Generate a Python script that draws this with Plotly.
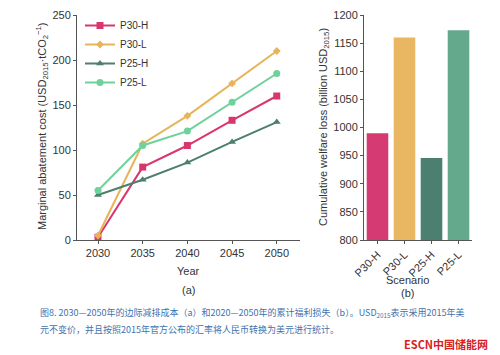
import plotly.graph_objects as go

years = [2030, 2035, 2040, 2045, 2050]
p30h = [3, 81, 105, 133, 160]
p30l = [5, 107, 138, 174, 210]
p25h = [50, 67, 86, 109, 131]
p25l = [55, 105, 121, 153, 185]

scenarios = ["P30-H", "P30-L", "P25-H", "P25-L"]
welfare = [990, 1160, 946, 1173]

line_colors = ["#d9366e", "#e8b45a", "#4c7f6e", "#6fd19c"]
bar_colors = ["#d63a72", "#e9b762", "#4b7f70", "#64a98b"]
markers = ["square", "diamond", "triangle-up", "circle"]
series = [("P30-H", p30h), ("P30-L", p30l), ("P25-H", p25h), ("P25-L", p25l)]

FONT = "Liberation Sans, Arial, sans-serif"
fig = go.Figure()
for (name, vals), c, m in zip(series, line_colors, markers):
    fig.add_trace(go.Scatter(x=years, y=vals, name=name, mode="lines+markers",
                             line=dict(color=c, width=2),
                             marker=dict(symbol=m, size=7 if m != "diamond" else 6, color=c),
                             xaxis="x", yaxis="y"))

fig.add_trace(go.Bar(x=scenarios, y=welfare, marker=dict(color=bar_colors, line=dict(width=0)),
                     showlegend=False, xaxis="x2", yaxis="y2"))

H = 355
def py(px):
    return 1 - px / H

axis_common = dict(showline=True, linecolor="#555", linewidth=1, ticks="outside",
                   ticklen=3, tickcolor="#555", showgrid=False, zeroline=False,
                   automargin=False,
                   tickfont=dict(family=FONT, size=11, color="#333"))

fig.update_layout(
    template="none",
    width=500, height=355, margin=dict(l=0, r=0, t=0, b=0, pad=0, autoexpand=False),
    paper_bgcolor="white", plot_bgcolor="white",
    font=dict(family=FONT, color="#333"),
    bargap=0.2,
    xaxis=dict(domain=[77/500, 300/500], range=[2027.65, 2052.6], tickvals=years,
               anchor="y", **axis_common),
    yaxis=dict(domain=[py(240), py(15)], range=[0, 250], tickvals=[0, 50, 100, 150, 200, 250],
               anchor="x", **axis_common),
    xaxis2=dict(domain=[364/500, 472/500], range=[-0.5, 3.5], tickangle=-45,
                anchor="y2", **axis_common),
    yaxis2=dict(domain=[py(240), py(15)], range=[800, 1200],
                tickvals=[800, 850, 900, 950, 1000, 1050, 1100, 1150, 1200],
                anchor="x2", **axis_common),
    legend=dict(x=80/500, y=py(11), xanchor="left", yanchor="top",
                bgcolor="rgba(0,0,0,0)", borderwidth=0,
                font=dict(family=FONT, size=10, color="#333"),
                tracegroupgap=0, itemwidth=30),
)

def A(text, x, y, size=11, color="#333", family=FONT, xanchor="center", angle=0):
    return dict(text=text, x=x/500, y=py(y), xref="paper", yref="paper",
                xanchor=xanchor, yanchor="middle", textangle=angle, showarrow=False,
                font=dict(family=family, size=size, color=color))

ann = [
    A("Marginal abatement cost (USD<sub>2015</sub>·tCO<sub>2</sub><sup>−1</sup>)", 42, 127, angle=-90),
    A("Cumulative welfare loss (billion USD<sub>2015</sub>)", 324, 127, angle=-90),
    A("Year", 188, 271),
    A("(a)", 188, 290),
    A("Scenario", 407, 280),
    A("(b)", 407, 293),
    A("图8. 2030—2050年的边际减排成本（a）和2020—2050年的累计福利损失（b）。USD<sub>2015</sub>表示采用2015年美",
      38, 313, size=9, color="#3f72ad", family="Noto Sans CJK SC", xanchor="left"),
    A("元不变价，并且按照2015年官方公布的汇率将人民币转换为美元进行统计。",
      38, 329, size=9, color="#3f72ad", family="Noto Sans CJK SC", xanchor="left"),
    A("<b>ESCN</b><b>中国储能网</b>", 490, 344, size=11, color="#d9201f",
      family="Noto Sans CJK SC", xanchor="right"),
]
fig.update_layout(annotations=ann)

fig.write_html("out.html", config={"displayModeBar": False},
               post_script="document.body.style.margin='0';document.body.style.overflow='hidden';")
